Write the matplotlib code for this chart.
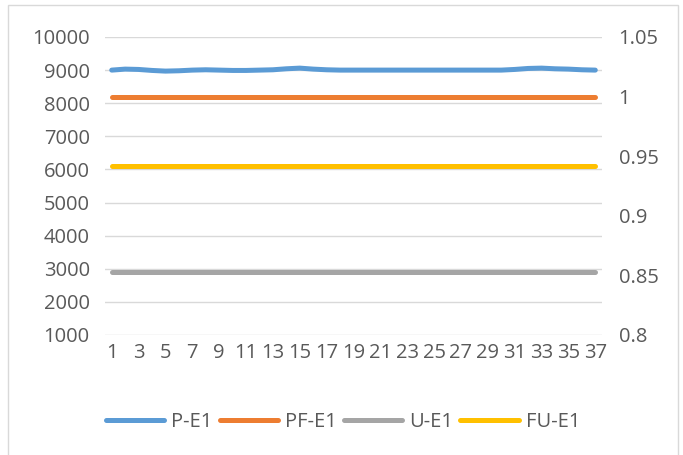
import matplotlib
matplotlib.use("Agg")
import matplotlib.pyplot as plt
from matplotlib.patches import Rectangle
from matplotlib.lines import Line2D

categories = list(range(1, 38))
p_e1 = [9000, 9030, 9020, 8990, 8970, 8980, 9000, 9010, 9000, 8990,
        8990, 9000, 9010, 9040, 9060, 9030, 9010, 9000, 9000, 9000,
        9000, 9000, 9000, 9000, 9000, 9000, 9000, 9000, 9000, 9000,
        9020, 9050, 9060, 9040, 9030, 9010, 9000]
u_e1 = [2890] * 37
pf_e1 = [1.0] * 37
fu_e1 = [0.942] * 37

left_ticks = [1000, 2000, 3000, 4000, 5000, 6000, 7000, 8000, 9000, 10000]
right_ticks = [0.8, 0.85, 0.9, 0.95, 1.0, 1.05]
right_labels = ["0.8", "0.85", "0.9", "0.95", "1", "1.05"]

BLUE = "#5B9BD5"
ORANGE = "#ED7D31"
GRAY = "#A5A5A5"
YELLOW = "#FFC000"
TXT = "#595959"
GRID = "#D9D9D9"

plt.rcParams['font.family'] = ['Open Sans', 'DejaVu Sans']

W, H = 683, 455
fig = plt.figure(figsize=(W / 100, H / 100), dpi=100)
fig.patch.set_facecolor("white")

FS = 14.5
x0, x1, yt, yb = 105, 602, 37, 335
ax = fig.add_axes([x0 / W, 1 - yb / H, (x1 - x0) / W, (yb - yt) / H])
ax2 = ax.twinx()

lw = 3.6
ax.plot(categories, p_e1, color=BLUE, lw=lw, solid_capstyle="round", zorder=3)
ax.plot(categories, u_e1, color=GRAY, lw=lw, solid_capstyle="round", zorder=3)
ax2.plot(categories, pf_e1, color=ORANGE, lw=lw, solid_capstyle="round", zorder=3)
ax2.plot(categories, fu_e1, color=YELLOW, lw=lw, solid_capstyle="round", zorder=3)

ax.set_xlim(0.5, 37.5)
ax.set_ylim(1000, 10000)
ax2.set_ylim(0.8, 1.05)
ax.set_yticks(left_ticks)
ax.set_yticklabels([str(t) for t in left_ticks])
ax2.set_yticks(right_ticks)
ax2.set_yticklabels(right_labels)
ax.set_xticks(categories[::2])
ax.set_xticklabels([str(c) for c in categories[::2]])

ax.grid(axis="y", color=GRID, lw=1.0, zorder=0)
ax.set_axisbelow(True)
for a in (ax, ax2):
    for s in a.spines.values():
        s.set_visible(False)
    a.tick_params(length=0, colors=TXT, labelsize=FS)
ax.tick_params(axis="y", pad=11)
ax2.tick_params(axis="y", pad=12)
ax.tick_params(axis="x", pad=6)

handles = [Line2D([], [], color=c, lw=lw, solid_capstyle="round")
           for c in (BLUE, ORANGE, GRAY, YELLOW)]
labels = ["P-E1", "PF-E1", "U-E1", "FU-E1"]
fig.legend(handles, labels, loc="center", bbox_to_anchor=(343 / W, 1 - 422 / H),
           ncol=4, frameon=False, fontsize=FS, handlelength=2.9,
           handletextpad=0.35, columnspacing=0.35, labelcolor=TXT)

fig.patches.append(Rectangle((8 / W, -0.05), (678 - 8) / W, 1.05 - 5 / H,
                             transform=fig.transFigure, fill=False,
                             edgecolor="#D9D9D9", lw=1.0))

fig.savefig("out.png", dpi=100, facecolor="white")
